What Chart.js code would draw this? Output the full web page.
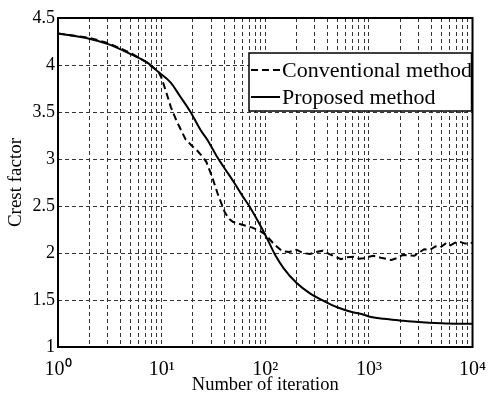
<!DOCTYPE html>
<html><head><meta charset="utf-8">
<script src="https://cdn.jsdelivr.net/npm/chart.js@4.4.1/dist/chart.umd.min.js"></script>
<style>html,body{margin:0;padding:0;background:#fff;}#wrap{width:497px;height:394px;}</style>
</head><body><div id="wrap"><canvas id="c" width="497" height="394"></canvas></div>
<script>
// Series names
const seriesNames = ['Conventional method', 'Proposed method'];
// Conventional method (dashed)
const convX = [1, 2, 3, 5, 7, 9.3, 10, 11, 12.3, 14, 17, 20, 22, 25, 27, 30.5, 35, 40.8, 45, 49, 60, 75, 90, 101, 120, 145, 170, 200, 230, 269, 310, 360, 410, 464, 537, 620, 717, 800, 890, 1000, 1109, 1300, 1500, 1652, 1900, 2132, 2450, 2750, 3100, 3420, 3900, 4400, 4900, 5470, 6100, 6800, 7500, 8500, 10000];
const convY = [4.336, 4.29, 4.235, 4.13, 4.035, 3.93, 3.86, 3.72, 3.55, 3.40, 3.21, 3.13, 3.09, 3.02, 2.97, 2.82, 2.62, 2.43, 2.36, 2.33, 2.30, 2.27, 2.23, 2.195, 2.10, 2.02, 2.01, 2.035, 2.00, 1.99, 2.01, 2.025, 1.99, 1.965, 1.935, 1.955, 1.96, 1.94, 1.945, 1.96, 1.97, 1.95, 1.935, 1.925, 1.95, 1.98, 1.975, 1.97, 2.01, 2.04, 2.035, 2.07, 2.06, 2.10, 2.08, 2.11, 2.12, 2.10, 2.11];
// Proposed method (solid)
const propX = [1, 2, 3.1, 5.15, 7.4, 9.2, 12.3, 15, 19, 24, 27.4, 34, 40, 50, 60, 70, 82, 94, 110, 126, 150, 201, 270, 373, 500, 700, 892, 1000, 1400, 1983, 3000, 5000, 7000, 10000];
const propY = [4.336, 4.28, 4.22, 4.11, 4.02, 3.93, 3.81, 3.67, 3.50, 3.30, 3.21, 3.03, 2.91, 2.75, 2.61, 2.50, 2.37, 2.25, 2.10, 1.97, 1.84, 1.68, 1.57, 1.485, 1.42, 1.37, 1.344, 1.325, 1.30, 1.283, 1.265, 1.252, 1.248, 1.248];
// Ticks
const xTickValues = [1, 2, 3, 4, 5, 6, 7, 8, 9, 10, 20, 30, 40, 50, 60, 70, 80, 90, 100, 200, 300, 400, 500, 600, 700, 800, 900, 1000, 2000, 3000, 4000, 5000, 6000, 7000, 8000, 9000, 10000];
const xMajorTicks = [1, 10, 100, 1000, 10000];
const xTickLabels = ['10\u2070', '10\u00B9', '10\u00B2', '10\u00B3', '10\u2074'];
const yTickValues = [1, 1.5, 2, 2.5, 3, 3.5, 4, 4.5];
const yTickLabels = ['1', '1.5', '2', '2.5', '3', '3.5', '4', '4.5'];

const FAMILY = "'Liberation Serif', 'Times New Roman', serif";

const boxAndLegend = {
  id: 'boxAndLegend',
  afterDatasetsDraw(chart) {
    const {ctx, chartArea: a} = chart;
    ctx.save();
    ctx.strokeStyle = '#000';
    ctx.lineWidth = 2;
    ctx.setLineDash([]);
    ctx.strokeRect(a.left, a.top, a.right - a.left, a.bottom - a.top);
    const l = a.left + 191, r = a.right - 1, t = a.top + 35, b = a.top + 93;
    ctx.fillStyle = '#fff';
    ctx.fillRect(l, t, r - l, b - t);
    ctx.lineWidth = 1.5;
    ctx.strokeRect(l, t, r - l, b - t);
    chart.data.datasets.forEach((ds, i) => {
      const y = t + 17 + i * 27;
      ctx.setLineDash(ds.borderDash || []);
      ctx.lineWidth = 2;
      ctx.beginPath();
      ctx.moveTo(l + 2, y);
      ctx.lineTo(l + 31, y);
      ctx.stroke();
      ctx.setLineDash([]);
      ctx.fillStyle = '#000';
      ctx.font = '22px ' + FAMILY;
      ctx.textBaseline = 'middle';
      ctx.textAlign = 'left';
      ctx.fillText(ds.label, l + 33, y + 1);
    });
    ctx.restore();
  }
};

new Chart(document.getElementById('c'), {
  type: 'line',
  data: {
    datasets: [
      {
        label: seriesNames[0],
        data: convX.map((x, i) => ({x: x, y: convY[i]})),
        borderColor: '#000', borderWidth: 2, borderDash: [7, 4],
        pointRadius: 0, fill: false, tension: 0
      },
      {
        label: seriesNames[1],
        data: propX.map((x, i) => ({x: x, y: propY[i]})),
        borderColor: '#000', borderWidth: 2,
        pointRadius: 0, fill: false, cubicInterpolationMode: 'monotone'
      }
    ]
  },
  options: {
    responsive: false,
    animation: false,
    devicePixelRatio: 1,
    layout: {padding: {top: 18, right: 16, left: 0, bottom: 0}},
    plugins: {legend: {display: false}, tooltip: {enabled: false}},
    scales: {
      x: {
        type: 'logarithmic',
        min: 1, max: 10000,
        afterBuildTicks: s => { s.ticks = xTickValues.map(v => ({value: v})); },
        afterFit: s => { s.height = 47; },
        ticks: {
          autoSkip: false, maxRotation: 0, minRotation: 0,
          color: '#000', padding: 11,
          font: {family: FAMILY, size: 20},
          callback: v => { const k = xMajorTicks.indexOf(v); return k >= 0 ? xTickLabels[k] : ''; }
        },
        grid: {color: '#333', lineWidth: 1, drawTicks: false},
        border: {display: false, dash: [4, 3]},
        title: {display: true, text: 'Number of iteration', color: '#000',
          font: {family: FAMILY, size: 18.5, lineHeight: 1}, padding: 0}
      },
      y: {
        type: 'linear',
        min: 1, max: 4.5,
        afterBuildTicks: s => { s.ticks = yTickValues.map(v => ({value: v})); },
        afterFit: s => { s.width = 58; },
        ticks: {
          color: '#000', padding: 3,
          font: {family: FAMILY, size: 18},
          callback: v => { const k = yTickValues.indexOf(v); return k >= 0 ? yTickLabels[k] : ''; }
        },
        grid: {color: '#333', lineWidth: 1, drawTicks: false},
        border: {display: false, dash: [4, 3]},
        title: {display: true, text: 'Crest factor', color: '#000',
          font: {family: FAMILY, size: 19, lineHeight: 1}, padding: {top: 7, bottom: 0}}
      }
    }
  },
  plugins: [boxAndLegend]
});
</script>
</body></html>
